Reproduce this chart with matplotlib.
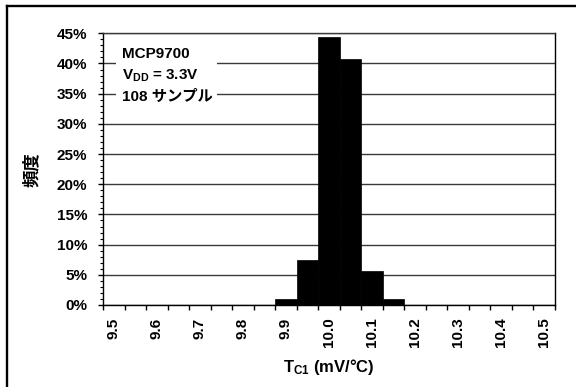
import matplotlib.pyplot as plt
from matplotlib.lines import Line2D
from matplotlib.patches import Rectangle
from matplotlib.ticker import MultipleLocator, FixedLocator

plt.rcParams['font.family'] = ['Liberation Sans', 'Noto Sans CJK JP']
plt.rcParams['font.weight'] = 'bold'
plt.rcParams['mathtext.fontset'] = 'custom'
plt.rcParams['mathtext.rm'] = 'Liberation Sans:bold'
plt.rcParams['mathtext.default'] = 'rm'

# bin centres (mV/°C) and share of the 108 samples in each bin (%)
bins = ['9.50', '9.55', '9.60', '9.65', '9.70', '9.75', '9.80', '9.85', '9.90', '9.95',
        '10.00', '10.05', '10.10', '10.15', '10.20', '10.25', '10.30', '10.35', '10.40',
        '10.45', '10.50']
freq = [0, 0, 0, 0, 0, 0, 0, 0, 0.93, 7.41, 44.44, 40.74, 5.56, 0.93, 0, 0, 0, 0, 0, 0, 0]
tick_labels = ['9.5', '9.6', '9.7', '9.8', '9.9', '10.0', '10.1', '10.2', '10.3', '10.4', '10.5']
y_labels = ['0%', '5%', '10%', '15%', '20%', '25%', '30%', '35%', '40%', '45%']

fig = plt.figure(figsize=(5.76, 3.87), dpi=100)
ax = fig.add_axes([103 / 576, 1 - 305 / 387, 452 / 576, 271.7 / 387])

x = list(range(len(bins)))
ax.bar(x, freq, width=1.0, color='black', edgecolor='black', linewidth=0.5, zorder=3)

ax.set_xlim(-0.5, len(bins) - 0.5)
ax.set_ylim(0, 45)

# labels every other bin, tick marks on bin boundaries
ax.xaxis.set_major_locator(FixedLocator(x[::2]))
ax.set_xticklabels(tick_labels, rotation=90, fontsize=11, fontweight='bold')
ax.xaxis.set_minor_locator(FixedLocator([i - 0.5 for i in range(len(bins) + 1)]))
ax.tick_params(axis='x', which='major', length=0, pad=9)
ax.tick_params(axis='x', which='minor', length=3.6, width=1, direction='out')

ax.yaxis.set_major_locator(FixedLocator(range(0, 46, 5)))
ax.set_yticklabels(y_labels, fontsize=11, fontweight='bold')
ax.yaxis.set_minor_locator(MultipleLocator(1))
ax.tick_params(axis='y', which='major', length=3.5, width=1, pad=8)
ax.tick_params(axis='y', which='minor', length=2.2, width=0.8)

ax.grid(axis='y', which='major', color='#3a3a3a', linewidth=1, zorder=1)
for s in ax.spines.values():
    s.set_color('black')
    s.set_linewidth(1)
ax.spines['top'].set_color('#3a3a3a')

ax.set_xlabel('T$_{C1}$ (mV/°C)', fontsize=12, fontweight='bold', labelpad=7)
ax.set_ylabel('頻度', fontsize=12.5, fontweight='bold', labelpad=12)

# note box
ax.add_patch(Rectangle((0.029, 0.732), 0.223, 0.229, transform=ax.transAxes,
                       facecolor='white', edgecolor='none', zorder=2))
ax.text(0.042, 0.922, 'MCP9700', transform=ax.transAxes, fontsize=11,
        fontweight='bold', va='center', zorder=4)
ax.text(0.042, 0.843, 'V$_{DD}$ = 3.3V', transform=ax.transAxes, fontsize=11,
        fontweight='bold', va='center', zorder=4)
ax.text(0.042, 0.767, '108 サンプル', transform=ax.transAxes, fontsize=11,
        fontweight='bold', va='center', zorder=4)

# outer frame (left and top edges visible)
fig.add_artist(Line2D([7 / 576, 7 / 576], [0, 1 - 5.7 / 387], transform=fig.transFigure,
                      color='black', linewidth=1.7))
fig.add_artist(Line2D([7 / 576, 1], [1 - 5.7 / 387, 1 - 5.7 / 387], transform=fig.transFigure,
                      color='black', linewidth=1.7))

fig.savefig('out.png', dpi=100)
